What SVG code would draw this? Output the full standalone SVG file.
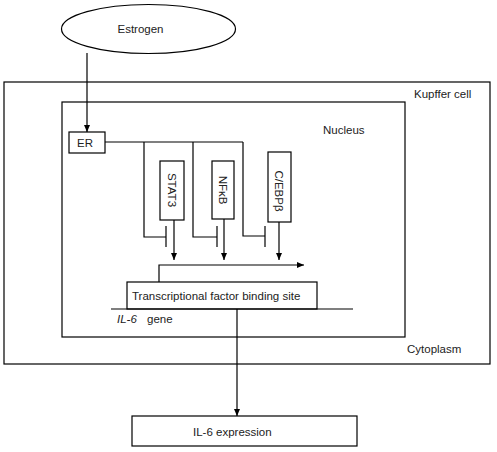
<svg xmlns="http://www.w3.org/2000/svg" width="497" height="452" viewBox="0 0 497 452">
<defs>
<marker id="ah" markerWidth="8" markerHeight="8" refX="7" refY="4" orient="auto" markerUnits="userSpaceOnUse">
<path d="M0,1 L7,4 L0,7 Z" fill="#000"/>
</marker>
<style>
.box{fill:#fff;stroke:#000;stroke-width:1.2}
.ln{fill:none;stroke:#000;stroke-width:1.2}
.arr{fill:none;stroke:#000;stroke-width:1.2;marker-end:url(#ah)}
text{font-family:"Liberation Sans",Arial,sans-serif;font-size:11.5px;fill:#222}
</style>
</defs>
<rect width="497" height="452" fill="#fff"/>
<g id="kupffer-cell">
<rect class="box" x="4" y="82" width="486" height="282" fill="none"/>
<text x="414" y="98">Kupffer cell</text>
<text x="407" y="353">Cytoplasm</text>
</g>
<g id="nucleus">
<rect class="box" x="62" y="102" width="343" height="235"/>
<text x="323" y="134">Nucleus</text>
</g>
<g id="estrogen">
<ellipse class="box" cx="148.5" cy="29" rx="87" ry="24.5" stroke="#333" stroke-width="1"/>
<text x="140.5" y="33" text-anchor="middle">Estrogen</text>
</g>
<g id="er">
<rect class="box" x="69" y="132" width="36" height="21"/>
<text x="77" y="147">ER</text>
</g>
<g id="stat3">
<rect class="box" x="160" y="161" width="24" height="59"/>
<text transform="translate(168,190) rotate(90)" text-anchor="middle">STAT3</text>
</g>
<g id="nfkb">
<rect class="box" x="212" y="161" width="22" height="58"/>
<text transform="translate(219,190) rotate(90)" text-anchor="middle">NFκB</text>
</g>
<g id="cebpb">
<rect class="box" x="268" y="152" width="23" height="70"/>
<text transform="translate(275,191) rotate(90)" text-anchor="middle">C/EBPβ</text>
</g>
<g id="tfbs">
<rect class="box" x="127" y="282" width="190" height="27"/>
<text x="132" y="300">Transcriptional factor binding site</text>
</g>
<g id="il6-gene">
<line class="ln" x1="111" y1="309" x2="353" y2="309"/>
<text x="117" y="323" font-family="'Liberation Serif',serif" font-style="italic" font-size="12px">IL-6</text>
<text x="147" y="323">gene</text>
</g>
<g id="il6-expression">
<rect class="box" x="132" y="416" width="225" height="30"/>
<text x="193" y="436">IL-6 expression</text>
</g>
<g id="connectors">
<line class="arr" x1="87" y1="53" x2="87" y2="132"/>
<polyline class="ln" points="105,142 243,142"/>
<polyline class="ln" points="144,142 144,237 166,237"/>
<line class="ln" x1="166" y1="226" x2="166" y2="247"/>
<polyline class="ln" points="193,142 193,237 217,237"/>
<line class="ln" x1="217" y1="226" x2="217" y2="247"/>
<polyline class="ln" points="243,142 243,236 265,236"/>
<line class="ln" x1="265" y1="226" x2="265" y2="247"/>
<line class="arr" x1="174" y1="220" x2="174" y2="260"/>
<line class="arr" x1="224" y1="219" x2="224" y2="260"/>
<line class="arr" x1="279" y1="222" x2="279" y2="260"/>
<polyline class="arr" points="159,282 159,265 304,265"/>
<line class="arr" x1="237" y1="309" x2="237" y2="416"/>
</g>
</svg>
